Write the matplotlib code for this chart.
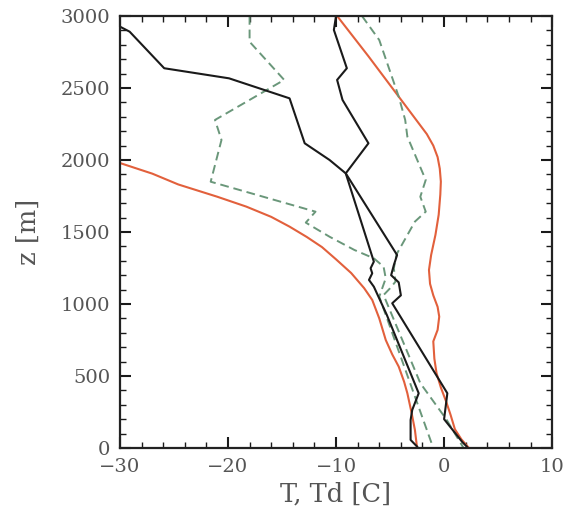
import numpy as np
import matplotlib
matplotlib.use('Agg')
import matplotlib.pyplot as plt
from matplotlib.ticker import MultipleLocator

# Data (T in C, z in m)
# temperature profile, cold side (orange)
T_red_a = [-30.6, -30.0, -27.0, -24.6, -21.0, -18.3, -16.0, -14.3, -12.7, -11.3, -10.0, -8.6,
           -7.4, -6.65, -6.0, -5.4, -4.8, -4.2, -3.7, -3.4, -3.0, -2.7, -2.5]
z_red_a = [2010, 1979, 1905, 1830, 1745, 1676, 1605, 1537, 1465, 1395, 1310, 1215,
           1110, 1028, 900, 750, 650, 565, 460, 380, 241, 125, 0]

# temperature profile, warm side (orange)
T_red_b = [-9.9, -7.0, -4.2, -2.6, -1.6, -1.0, -0.6, -0.4, -0.3, -0.35, -0.5, -0.8, -1.2, -1.4,
           -1.3, -1.0, -0.6, -0.45, -0.6, -1.0, -0.9, -0.7, -0.3, 0.2, 0.6, 1.0, 1.6, 2.3]
z_red_b = [3000, 2720, 2440, 2280, 2180, 2100, 2020, 1940, 1850, 1760, 1620, 1480, 1340, 1236,
           1140, 1060, 980, 912, 820, 740, 620, 520, 420, 320, 230, 130, 60, 0]

# observed profile 1 (black)
T_blk_a = [-30.6, -30.0, -29.1, -25.9, -19.9, -14.3, -12.9, -10.6, -9.1, -6.5, -6.8, -6.65, -6.95, -6.5,
           -5.3, -2.35, -2.95, -3.1, -3.1, -2.5]
z_blk_a = [2950, 2926, 2891, 2637, 2567, 2428, 2116, 2000, 1907, 1294, 1248, 1213, 1167, 1120,
           924, 380, 264, 194, 56, 10]

# observed profile 2 (black)
T_blk_b = [-10.0, -10.2, -9.0, -9.9, -9.4, -7.0, -9.1, -4.35, -4.65, -4.9, -4.2, -4.0, -4.8,
           0.3, 0.0, 1.7, 2.1]
z_blk_b = [3000, 2903, 2637, 2556, 2417, 2116, 1907, 1340, 1270, 1200, 1150, 1060, 1005,
           380, 200, 40, 10]

# dew point profile 1 (green dashed)
T_grn_a = [-18.0, -18.0, -14.8, -21.2, -20.6, -21.6, -11.9, -12.8, -10.6, -8.3, -6.5, -5.6, -5.4, -6.0, -1.0]
z_grn_a = [3000, 2821, 2556, 2278, 2139, 1849, 1641, 1565, 1467, 1375, 1317, 1259, 1178, 1051, 0]

# dew point profile 2 (green dashed)
T_grn_b = [-7.6, -6.0, -4.2, -3.6, -3.4, -1.7, -2.2, -1.7, -2.7, -4.4, -4.65, -4.5, -5.0, -5.6,
           -2.2, 0.2, 1.8]
z_grn_b = [3000, 2833, 2440, 2278, 2162, 1861, 1745, 1641, 1572, 1345, 1248, 1155, 1109, 1062,
           450, 200, 0]

red = '#e2603c'
green = '#6a977a'
black = '#1a1a1a'
grey = '#555555'

plt.rc('font', family='DejaVu Serif')

fig = plt.figure(figsize=(5.71, 5.22), dpi=100)
ax = fig.add_axes([0.210, 0.1418, 0.757, 0.8276])

ax.plot(T_red_a, z_red_a, color=red, lw=1.5)
ax.plot(T_red_b, z_red_b, color=red, lw=1.5)
ax.plot(T_grn_a, z_grn_a, color=green, lw=1.4, dashes=(4.5, 2.5))
ax.plot(T_grn_b, z_grn_b, color=green, lw=1.4, dashes=(4.5, 2.5))
ax.plot(T_blk_a, z_blk_a, color=black, lw=1.5)
ax.plot(T_blk_b, z_blk_b, color=black, lw=1.5)

ax.set_xlim(-30, 10)
ax.set_ylim(0, 3000)
ax.xaxis.set_major_locator(MultipleLocator(10))
ax.xaxis.set_minor_locator(MultipleLocator(2))
ax.yaxis.set_major_locator(MultipleLocator(500))
ax.yaxis.set_minor_locator(MultipleLocator(100))
ax.tick_params(which='both', direction='in', top=True, right=True, colors=black,
               labelcolor=grey, labelsize=14)
ax.tick_params(which='major', length=8, width=1.5)
ax.tick_params(which='minor', length=4, width=1.0)
ax.tick_params(axis='x', pad=7)
ax.tick_params(axis='y', pad=7)
for s in ax.spines.values():
    s.set_linewidth(1.6)
    s.set_color('#222222')

ax.set_xlabel('T, Td [C]', fontsize=18.5, color=grey, labelpad=4)
ax.set_ylabel('z [m]', fontsize=18.5, color=grey, labelpad=14)

fig.savefig('out.png', dpi=100)
